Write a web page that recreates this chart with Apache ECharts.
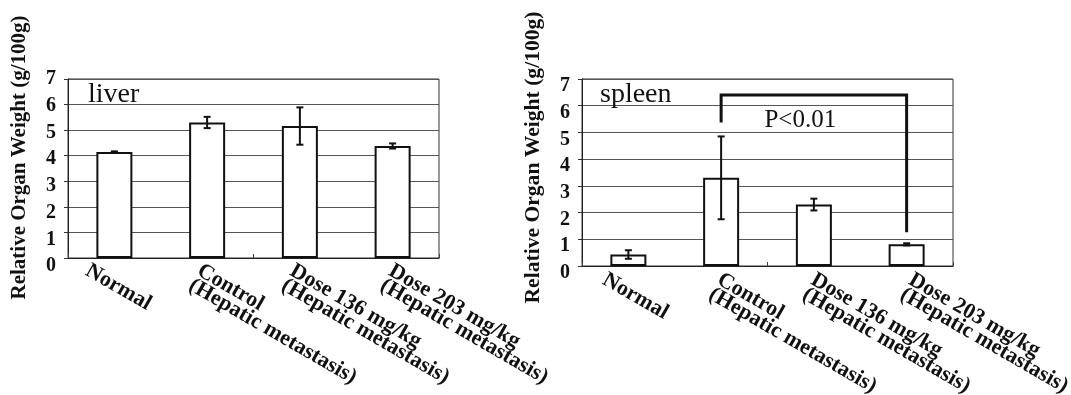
<!DOCTYPE html>
<html>
<head>
<meta charset="utf-8">
<script src="https://cdn.jsdelivr.net/npm/echarts@6/dist/echarts.min.js"></script>
<style>
  html, body { margin: 0; padding: 0; background: #fff; }
  #chart { width: 1071px; height: 395px; }
</style>
</head>
<body>
<div id="chart"></div>
<script>
// Groups on the category axis
const categories = [
  'Normal',
  'Control\n(Hepatic metastasis)',
  'Dose 136 mg/kg\n(Hepatic metastasis)',
  'Dose 203 mg/kg\n(Hepatic metastasis)'
];

// Relative organ weight, mean and SD (g/100g)
const liverMean = [4.15, 5.30, 5.16, 4.38];
const liverSD   = [0.02, 0.22, 0.73, 0.10];
const spleenMean = [0.43, 3.30, 2.30, 0.81];
const spleenSD   = [0.16, 1.55, 0.22, 0.04];

// Value axis ticks
const yTicks = [0, 1, 2, 3, 4, 5, 6, 7];
const panelNames = ['liver', 'spleen'];
const yAxisName = 'Relative Organ Weight (g/100g)';

// Significance bracket in the spleen panel (Control vs Dose 203)
const bracketFrom = 1;
const bracketTo = 3;
const bracketTop = 6.40;
const bracketLeftEnd = 5.375;
const bracketRightEnd = 1.26;
const pLabel = 'P<0.01';
const pLabelY = 5.45;

// ---- styling / layout ----
const SERIF = '"Liberation Serif", "Times New Roman", serif';
const INK = '#111';
const grids = [
  { left: 68, top: 79, width: 371, height: 179 },
  { left: 582, top: 79, width: 371, height: 187 }
];
// per-label nudges of the slanted category labels (px)
const xLabelDx = [[-23, -4, -4, 2], [-20, 2, 3, 8]];
const xLabelDy = [4, 5];
const xLabelAngle = -30 * Math.PI / 180;
// vertical nudge of value-axis labels (px)
const yLabelShift = [v => (7 - v) * 1.15, v => 7];
const nameShift = [22, 30];
const nameSize = [21, 21.6];

function yLabelRich(panel) {
  const rich = {};
  yTicks.forEach(v => {
    rich['s' + v] = {
      fontFamily: SERIF, fontWeight: 'bold', fontSize: 20, color: INK,
      padding: [2 * yLabelShift[panel](v), 0, 0, 0]
    };
  });
  return rich;
}

function xAxisFor(panel) {
  return {
    type: 'category',
    gridIndex: panel,
    data: categories,
    axisLine: { lineStyle: { color: '#222', width: 1 } },
    axisTick: { show: true, inside: true, length: 4, lineStyle: { color: '#444' } },
    axisLabel: { show: false },
    splitLine: { show: false }
  };
}

function yAxisFor(panel) {
  return {
    type: 'value',
    gridIndex: panel,
    min: yTicks[0],
    max: yTicks[yTicks.length - 1],
    interval: 1,
    name: yAxisName,
    nameLocation: 'middle',
    nameGap: 38,
    nameTextStyle: {
      fontFamily: SERIF, fontWeight: 'bold', fontSize: nameSize[panel], color: INK,
      padding: [0, 0, 0, nameShift[panel]]
    },
    axisLine: { show: true, lineStyle: { color: '#222', width: 1 } },
    axisTick: { show: true, length: 4, lineStyle: { color: '#333' } },
    axisLabel: {
      margin: 12,
      formatter: v => '{s' + v + '|' + v + '}',
      rich: yLabelRich(panel)
    },
    splitLine: { show: true, lineStyle: { color: '#555', width: 1 } }
  };
}

function barSeries(panel, means) {
  return {
    type: 'bar',
    xAxisIndex: panel,
    yAxisIndex: panel,
    data: means,
    barWidth: 36,
    itemStyle: { color: '#fff', borderColor: '#111', borderWidth: 2 },
    silent: true
  };
}

function errorSeries(panel, means, sds) {
  return {
    type: 'custom',
    xAxisIndex: panel,
    yAxisIndex: panel,
    data: means.map((m, i) => [i, m, sds[i]]),
    z: 5,
    silent: true,
    renderItem: (params, api) => {
      const i = api.value(0), m = api.value(1), s = api.value(2);
      const hi = api.coord([i, m + s]);
      const lo = api.coord([i, m - s]);
      const cap = 3.5;
      const st = { stroke: '#111', lineWidth: 2 };
      return {
        type: 'group',
        children: [
          { type: 'line', shape: { x1: hi[0], y1: hi[1], x2: lo[0], y2: lo[1] }, style: st },
          { type: 'line', shape: { x1: hi[0] - cap, y1: hi[1], x2: hi[0] + cap, y2: hi[1] }, style: st },
          { type: 'line', shape: { x1: lo[0] - cap, y1: lo[1], x2: lo[0] + cap, y2: lo[1] }, style: st }
        ]
      };
    }
  };
}

function categoryLabelSeries(panel) {
  return {
    type: 'custom',
    xAxisIndex: panel,
    yAxisIndex: panel,
    data: categories.map((c, i) => [i, 0]),
    clip: false,
    silent: true,
    z: 6,
    renderItem: (params, api) => {
      const i = api.value(0);
      const p = api.coord([i, 0]);
      return {
        type: 'text',
        x: p[0] + xLabelDx[panel][i],
        y: p[1] + xLabelDy[panel],
        rotation: xLabelAngle,
        style: {
          text: categories[i],
          font: 'bold 22px ' + SERIF,
          fill: INK,
          align: 'left',
          verticalAlign: 'top',
          lineHeight: 17
        }
      };
    }
  };
}

const bracketSeries = {
  type: 'custom',
  xAxisIndex: 1,
  yAxisIndex: 1,
  data: [[bracketFrom, bracketTo]],
  clip: false,
  silent: true,
  z: 7,
  renderItem: (params, api) => {
    const a = api.coord([bracketFrom, bracketLeftEnd]);
    const b = api.coord([bracketFrom, bracketTop]);
    const c = api.coord([bracketTo, bracketTop]);
    const d = api.coord([bracketTo, bracketRightEnd]);
    const t = api.coord([bracketFrom, pLabelY]);
    const tx = b[0] + 0.427 * (c[0] - b[0]);
    return {
      type: 'group',
      children: [
        {
          type: 'polyline',
          shape: { points: [a, b, c, d] },
          style: { stroke: '#111', lineWidth: 3, fill: null, lineJoin: 'miter' }
        },
        {
          type: 'text',
          x: tx, y: t[1],
          style: {
            text: pLabel, font: '25px ' + SERIF, fill: INK,
            align: 'center', verticalAlign: 'middle'
          }
        }
      ]
    };
  }
};

const option = {
  backgroundColor: '#fff',
  animation: false,
  title: [
    { text: panelNames[0], left: 83, top: 76, textStyle: { fontFamily: SERIF, fontWeight: 'normal', fontSize: 28, color: INK } },
    { text: panelNames[1], left: 595, top: 76, textStyle: { fontFamily: SERIF, fontWeight: 'normal', fontSize: 28, color: INK } }
  ],
  grid: grids.map(g => Object.assign({ show: true, borderColor: '#333', borderWidth: 1, backgroundColor: 'transparent' }, g)),
  xAxis: [xAxisFor(0), xAxisFor(1)],
  yAxis: [yAxisFor(0), yAxisFor(1)],
  series: [
    barSeries(0, liverMean),
    errorSeries(0, liverMean, liverSD),
    categoryLabelSeries(0),
    barSeries(1, spleenMean),
    errorSeries(1, spleenMean, spleenSD),
    categoryLabelSeries(1),
    bracketSeries
  ]
};

const chart = echarts.init(document.getElementById('chart'), null, { renderer: 'canvas' });
chart.setOption(option);
</script>
</body>
</html>
